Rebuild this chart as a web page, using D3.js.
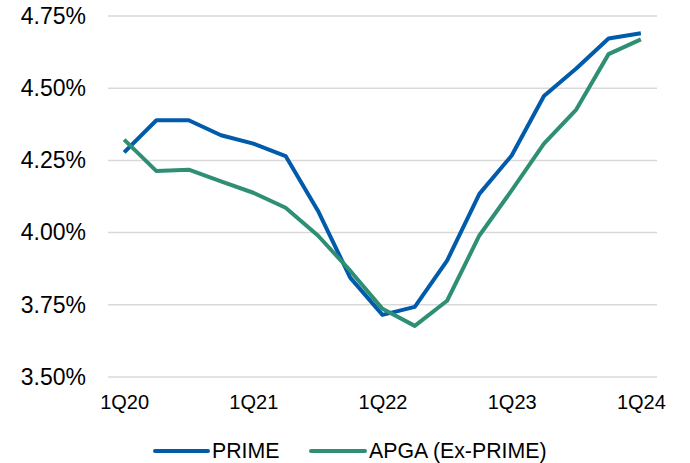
<!DOCTYPE html>
<html><head><meta charset="utf-8">
<script src="https://cdn.jsdelivr.net/npm/d3@7"></script>
<style>body{margin:0;background:#fff}svg{display:block}</style>
</head><body>
<svg id="c" width="690" height="463"></svg>
<script>
const quarters = ["1Q20","2Q20","3Q20","4Q20","1Q21","2Q21","3Q21","4Q21","1Q22","2Q22","3Q22","4Q22","1Q23","2Q23","3Q23","4Q23","1Q24"];
const prime = [4.278,4.389,4.389,4.337,4.308,4.265,4.076,3.844,3.715,3.743,3.903,4.134,4.267,4.473,4.568,4.672,4.690];
const apga  = [4.322,4.213,4.218,4.177,4.138,4.086,3.990,3.868,3.736,3.677,3.764,3.990,4.146,4.308,4.426,4.618,4.669];
const yTicks = [3.50,3.75,4.00,4.25,4.50,4.75];
const xTickLabels = ["1Q20","1Q21","1Q22","1Q23","1Q24"];
const seriesNames = ["PRIME","APGA (Ex-PRIME)"];
const colors = ["#005BAA","#2F8F74"];

const svg = d3.select("#c");
const font = "'Liberation Sans', Arial, sans-serif";
const x = d3.scalePoint().domain(quarters).range([108,657]).padding(0.5);
const y = d3.scaleLinear().domain([3.5,4.75]).range([377,16]);

// gridlines
svg.append("g").selectAll("line").data(yTicks).join("line")
  .attr("x1",108).attr("x2",657)
  .attr("y1",d=>y(d)).attr("y2",d=>y(d))
  .attr("stroke","#d9d9d9").attr("stroke-width",1.5);

// y axis labels
const yAxis = svg.append("g").attr("transform","translate(86,0)")
  .call(d3.axisLeft(y).tickValues(yTicks).tickSize(0).tickPadding(0).tickFormat(d=>d.toFixed(2)+"%"));
yAxis.select(".domain").remove();
yAxis.selectAll("text").attr("font-family",font).attr("font-size",23).attr("fill","#000");

// x axis labels
const xAxis = svg.append("g").attr("transform","translate(0,395)")
  .call(d3.axisBottom(x).tickValues(xTickLabels).tickSize(0).tickPadding(0));
xAxis.select(".domain").remove();
xAxis.selectAll("text").attr("font-family",font).attr("font-size",20).attr("fill","#000");

const line = d3.line().x((d,i)=>x(quarters[i])).y(d=>y(d));
[prime,apga].forEach((s,k)=>{
  svg.append("path").datum(s).attr("d",line).attr("fill","none")
    .attr("stroke",colors[k]).attr("stroke-width",4).attr("stroke-linejoin","round");
});

// legend
const leg = [{x1:155,x2:208,tx:212},{x1:311,x2:365,tx:369}];
seriesNames.forEach((n,k)=>{
  svg.append("line").attr("x1",leg[k].x1).attr("x2",leg[k].x2).attr("y1",451).attr("y2",451)
    .attr("stroke",colors[k]).attr("stroke-width",4).attr("stroke-linecap","round");
  svg.append("text").attr("x",leg[k].tx).attr("y",458).text(n)
    .attr("font-family",font).attr("font-size",21.3).attr("fill","#000");
});
</script>
</body></html>
